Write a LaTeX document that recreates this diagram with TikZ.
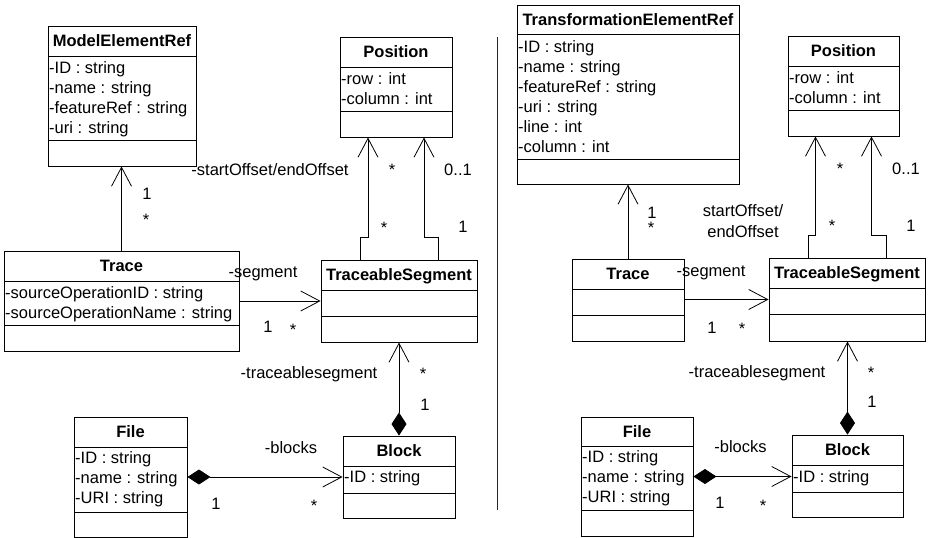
\documentclass[tikz,border=0pt]{standalone}
\usepackage{fontspec}
\setmainfont{Liberation Sans}
\usetikzlibrary{arrows.meta,fit}
\newcommand\ufont{\fontsize{16.5pt}{20pt}\selectfont}
\tikzset{
 box/.style={draw, line width=0.9pt, inner sep=0pt},
 boxline/.style={line width=0.9pt},
 txt/.style={font=\ufont, inner sep=0pt, text height=11.8pt, text depth=0pt},
 ttl/.style={txt, font=\ufont\bfseries},
 attr/.style={txt, anchor=west},
 lbl/.style={txt},
 assoc/.style={line width=0.8pt, -{Straight Barb[length=19pt,width=20pt]}},
 comp/.style={line width=0.8pt, {Diamond[length=23pt,width=15pt]}-{Straight Barb[length=19pt,width=20pt]}},
}
\newcommand\umlbox[8]{%
  \path (#2,#3) coordinate (#1-nw) (#4,#5) coordinate (#1-se);
  \node[box, fit=(#1-nw)(#1-se)] (#1) {};
  \draw[boxline] (#2,#6) -- (#4,#6);
  \draw[boxline] (#2,#7) -- (#4,#7);
  \node[ttl] (#1-title) at ({(#2+#4)/2},{(#3+#6)/2}) {#8};
}
\begin{document}
\begin{tikzpicture}[x=1pt,y=-1pt]
\useasboundingbox (0,0) rectangle (929,538);
% ---------------- left diagram ----------------
\umlbox{merL}{48}{26}{196}{166}{56}{140}{ModelElementRef}
\node[attr] (merL-a1) at (49,68) {-ID : string};
\node[attr] (merL-a2) at (49,88) {-name : string};
\node[attr] (merL-a3) at (49,108) {-featureRef : string};
\node[attr] (merL-a4) at (49,128) {-uri : string};

\umlbox{posL}{340}{37}{452}{137}{67}{111}{Position}
\node[attr] (posL-a1) at (341,79) {-row : int};
\node[attr] (posL-a2) at (341,99) {-column : int};

\umlbox{traceL}{4}{251}{239}{351}{281}{325}{Trace}
\node[attr] (traceL-a1) at (5,293) {-sourceOperationID : string};
\node[attr] (traceL-a2) at (5,313) {-sourceOperationName : string};

\umlbox{tsL}{321}{260}{477}{342}{290}{316}{TraceableSegment}

\umlbox{fileL}{74}{417}{187}{537}{447}{512}{File}
\node[attr] (fileL-a1) at (75,458) {-ID : string};
\node[attr] (fileL-a2) at (75,478) {-name : string};
\node[attr] (fileL-a3) at (75,498) {-URI : string};

\umlbox{blockL}{343}{436}{455}{518}{466}{493}{Block}
\node[attr] (blockL-a1) at (344,477) {-ID : string};

\draw[assoc] (traceL.north) -- (traceL.north |- merL.south);
\draw[assoc] ([xshift=-39pt]tsL.north) -- ++(0,-22) -| ([xshift=-28pt]posL.south);
\draw[assoc] ([xshift=39pt]tsL.north) -- ++(0,-22) -| ([xshift=28pt]posL.south);
\draw[assoc] (traceL.east |- tsL.west) -- (tsL.west);
\draw[comp] (blockL.north) -- (blockL.north |- tsL.south);
\draw[comp] (fileL.east) -- (fileL.east -| blockL.west);

\node[lbl] (l1) at (270,170) {-startOffset/endOffset};
\node[lbl] (l2) at (147,194) {1};
\node[lbl] (l3) at (146,220) {*};
\node[lbl] (l4) at (392,170) {*};
\node[lbl] (l5) at (458,170) {0..1};
\node[lbl] (l6) at (384,228) {*};
\node[lbl] (l7) at (463,227) {1};
\node[lbl] (l8) at (263,272) {-segment};
\node[lbl] (l9) at (268,327) {1};
\node[lbl] (l10) at (293,330) {*};
\node[lbl] (l11) at (309,373) {-traceablesegment};
\node[lbl] (l12) at (423,374) {*};
\node[lbl] (l13) at (425,405) {1};
\node[lbl] (l14) at (291,448) {-blocks};
\node[lbl] (l15) at (216,504) {1};
\node[lbl] (l16) at (314,506) {*};

% ---------------- divider ----------------
\coordinate (d1) at (497,37);
\coordinate (d2) at (497,510);
\draw[line width=0.9pt, black!85] (d1) -- (d2);

% ---------------- right diagram ----------------
\umlbox{terR}{517}{5}{739}{184}{34}{159}{TransformationElementRef}
\node[attr] (terR-a1) at (518,46.5) {-ID : string};
\node[attr] (terR-a2) at (518,66.5) {-name : string};
\node[attr] (terR-a3) at (518,86.5) {-featureRef : string};
\node[attr] (terR-a4) at (518,106.5) {-uri : string};
\node[attr] (terR-a5) at (518,126.5) {-line : int};
\node[attr] (terR-a6) at (518,146.5) {-column : int};

\umlbox{posR}{788}{36}{899}{136}{66}{110}{Position}
\node[attr] (posR-a1) at (789,77.5) {-row : int};
\node[attr] (posR-a2) at (789,97.5) {-column : int};

\umlbox{traceR}{572}{259}{684}{341}{289}{315}{Trace}

\umlbox{tsR}{769}{258}{925}{341}{288}{314}{TraceableSegment}

\umlbox{fileR}{581}{417}{693}{536}{446}{510}{File}
\node[attr] (fileR-a1) at (582,457) {-ID : string};
\node[attr] (fileR-a2) at (582,477) {-name : string};
\node[attr] (fileR-a3) at (582,497) {-URI : string};

\umlbox{blockR}{792}{435}{903}{517}{465}{492}{Block}
\node[attr] (blockR-a1) at (793,477) {-ID : string};

\draw[assoc] (traceR.north) -- (traceR.north |- terR.south);
\draw[assoc] ([xshift=-39pt]tsR.north) -- ++(0,-22) -| ([xshift=-28pt]posR.south);
\draw[assoc] ([xshift=39pt]tsR.north) -- ++(0,-22) -| ([xshift=28pt]posR.south);
\draw[assoc] (traceR.east |- tsR.west) -- (tsR.west);
\draw[comp] (blockR.north) -- (blockR.north |- tsR.south);
\draw[comp] (fileR.east) -- (fileR.east -| blockR.west);

\node[lbl] (r1) at (652,213) {1};
\node[lbl] (r2) at (651,228) {*};
\node[lbl] (r3) at (743,211) {startOffset/};
\node[lbl] (r4) at (743,231.5) {endOffset};
\node[lbl] (r5) at (840,169) {*};
\node[lbl] (r6) at (906,169) {0..1};
\node[lbl] (r7) at (832,226) {*};
\node[lbl] (r8) at (911,226) {1};
\node[lbl] (r9) at (711,271) {-segment};
\node[lbl] (r10) at (712,328) {1};
\node[lbl] (r11) at (742,329) {*};
\node[lbl] (r12) at (757,372) {-traceablesegment};
\node[lbl] (r13) at (871,373) {*};
\node[lbl] (r14) at (872,402) {1};
\node[lbl] (r15) at (740.5,447) {-blocks};
\node[lbl] (r16) at (720,503) {1};
\node[lbl] (r17) at (763,506) {*};
\end{tikzpicture}
\end{document}
